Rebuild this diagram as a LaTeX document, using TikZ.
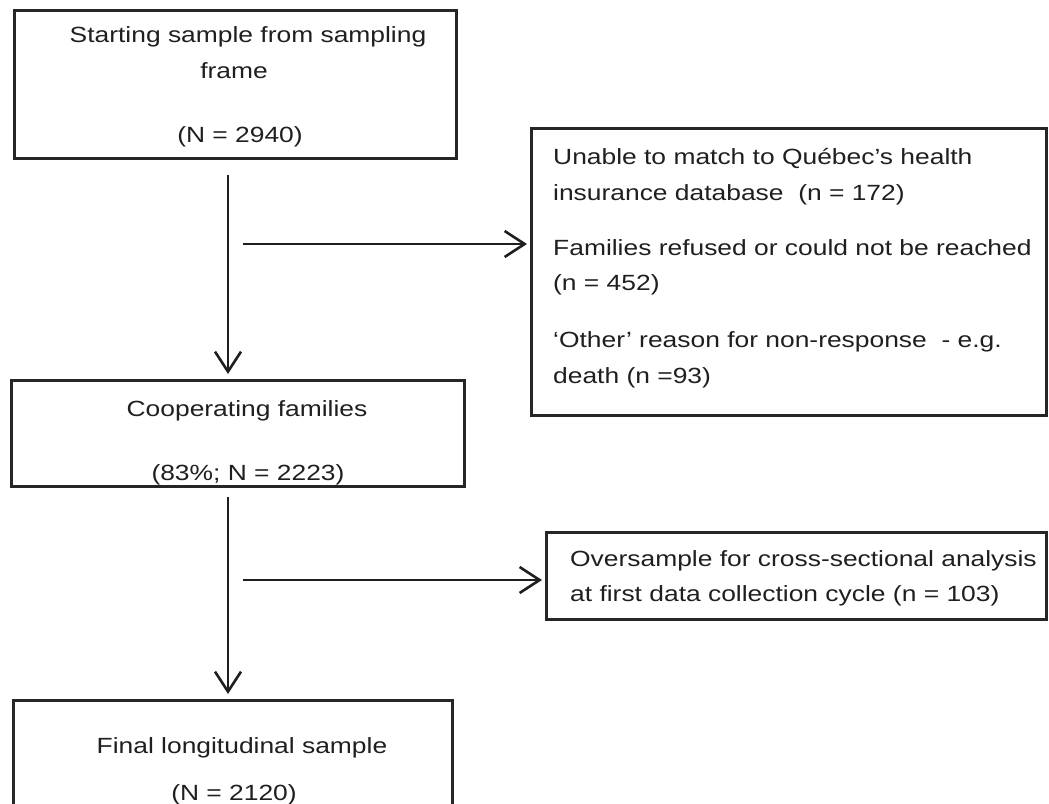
\documentclass[tikz,border=0pt]{standalone}
\usepackage{fontspec}
\setmainfont[FakeStretch=1.2]{Liberation Sans}
\usetikzlibrary{arrows.meta}
\begin{document}
\begin{tikzpicture}[x=1pt,y=-1pt,
  box/.style={draw=black!85, line width=2.6pt, inner sep=0pt, anchor=north west},
  lbl/.style={inner sep=0pt, anchor=base, font=\fontsize{22}{34}\selectfont, text=black!88},
  lbll/.style={lbl, anchor=base west},
  flow/.style={line width=2.6pt, draw=black!88, -{Straight Barb[length=20pt,width=26pt]}}]
\useasboundingbox (0,0) rectangle (1049,803);

% main column
\node[box, minimum width=442pt, minimum height=148pt] (start) at (13,9) {};
\node[box, minimum width=453pt, minimum height=106pt] (coop) at (10,379) {};
\node[box, minimum width=439pt, minimum height=125pt] (final) at (12,699) {};

% side boxes
\node[box, minimum width=515pt, minimum height=287pt] (excl) at (530,127) {};
\node[box, minimum width=500pt, minimum height=87pt] (over) at (545,531) {};

% texts of the main column
\node[lbl] (t1a) at (248,42) {Starting sample from sampling};
\node[lbl] (t1b) at (234,78) {frame};
\node[lbl] (t1c) at (240,142) {(N = 2940)};
\node[lbl] (t2a) at (247,416) {Cooperating families};
\node[lbl] (t2b) at (248,480) {(83\%; N = 2223)};
\node[lbl] (t3a) at (242,753) {Final longitudinal sample};
\node[lbl] (t3b) at (234,800) {(N = 2120)};

% texts of the side boxes
\node[lbll] (e1) at (553,164) {Unable to match to Québec’s health};
\node[lbll] (e2) at (553,200) {insurance database\ \ (n = 172)};
\node[lbll] (e3) at (553,255) {Families refused or could not be reached};
\node[lbll] (e4) at (553,290) {(n = 452)};
\node[lbll] (e5) at (553,347) {‘Other’ reason for non-response\ \ - e.g.};
\node[lbll] (e6) at (553,383) {death (n =93)};
\node[lbll] (o1) at (570,566) {Oversample for cross-sectional analysis};
\node[lbll] (o2) at (570,601) {at first data collection cycle (n = 103)};

% connectors
\coordinate (s1) at (228,175);
\coordinate (h1) at (243,244);
\coordinate (s2) at (228,497);
\coordinate (h2) at (243,580);
\draw[flow, shorten >=5pt] (s1) -- (s1 |- coop.north);
\draw[flow, shorten >=3pt] (h1) -- (h1 -| excl.west);
\draw[flow, shorten >=5pt] (s2) -- (s2 |- final.north);
\draw[flow, shorten >=3pt] (h2) -- (h2 -| over.west);
\end{tikzpicture}
\end{document}
